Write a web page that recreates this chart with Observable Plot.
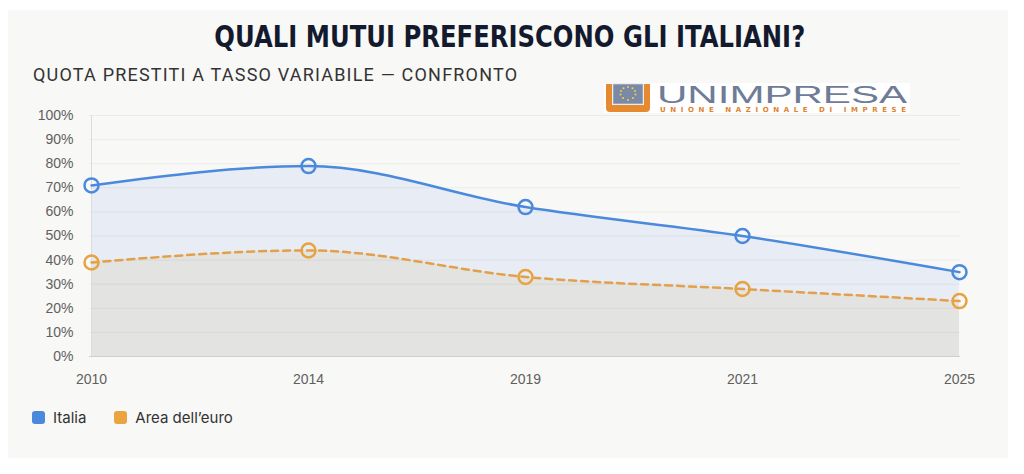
<!DOCTYPE html>
<html>
<head>
<meta charset="utf-8">
<script src="https://cdn.jsdelivr.net/npm/d3@7"></script>
<script src="https://cdn.jsdelivr.net/npm/@observablehq/plot@0.6"></script>
<style>
  html, body { margin:0; padding:0; background:#fff; }
  body { width:1024px; height:474px; position:relative; overflow:hidden; font-family:"Liberation Sans", Arial, sans-serif; }
  #panel { position:absolute; left:8px; top:10px; width:1000px; height:448px; background:#f8f8f6; }
  #title { position:absolute; left:0; width:1020px; top:19px; text-align:center; }
  #title span { display:inline-block; transform:scaleX(0.81); transform-origin:center; font-family:"DejaVu Sans","Liberation Sans",sans-serif; font-weight:700; font-size:30px; color:#141a2e; letter-spacing:0px; white-space:nowrap; }
  #subtitle { position:absolute; left:33px; top:64px; font-family:"Roboto","Liberation Sans",sans-serif; font-size:18px; color:#333; letter-spacing:1.2px; white-space:nowrap; }
  #logo { position:absolute; left:604px; top:80px; }
  #chart { position:absolute; left:0; top:100px; }
  #legend { position:absolute; left:32px; top:408px; font-family:"Inter","Liberation Sans",sans-serif; font-size:15px; color:#333; display:flex; align-items:center; }
  .sw { display:inline-block; width:13px; height:13px; border-radius:3px; margin-right:8px; }
  .item { display:flex; align-items:center; margin-right:28px; }
</style>
</head>
<body>
<div id="panel"></div>
<div id="title"><span>QUALI MUTUI PREFERISCONO GLI ITALIANI?</span></div>
<div id="subtitle">QUOTA PRESTITI A TASSO VARIABILE — CONFRONTO</div>
<div id="logo">
  <svg width="306" height="36" viewBox="0 0 306 36">
    <rect x="0" y="3" width="306" height="30" fill="#ffffff"/>
    <path d="M2 4 H8 V25 H40 V4 H46 V28 Q46 32 42 32 H6 Q2 32 2 28 Z" fill="#e58a2f"/>
    <rect x="9" y="4" width="30" height="20" fill="#7a8aa6" stroke="#c9ced8" stroke-width="0.8"/>
    <g fill="#f4d03f">
      <circle cx="24" cy="7" r="1"/><circle cx="28.5" cy="8.2" r="1"/><circle cx="31" cy="11" r="1"/>
      <circle cx="31.5" cy="14.5" r="1"/><circle cx="29" cy="18" r="1"/><circle cx="24" cy="20" r="1"/>
      <circle cx="19" cy="18" r="1"/><circle cx="16.5" cy="14.5" r="1"/><circle cx="17" cy="11" r="1"/>
      <circle cx="19.5" cy="8.2" r="1"/>
    </g>
    <text x="53" y="22.5" font-family="Liberation Sans, Arial, sans-serif" font-size="24" fill="#6e7c97" textLength="250" lengthAdjust="spacingAndGlyphs">UNIMPRESA</text>
    <text x="56" y="31.5" font-family="DejaVu Sans, sans-serif" font-weight="700" font-size="7" fill="#e0822e" textLength="246" lengthAdjust="spacing">UNIONE NAZIONALE DI IMPRESE</text>
  </svg>
</div>
<div id="chart"></div>
<div id="legend">
  <div class="item"><span class="sw" style="background:#4a89dc"></span>Italia</div>
  <div class="item"><span class="sw" style="background:#eaa440"></span>Area dell’euro</div>
</div>
<script>
const years = ["2010", "2014", "2019", "2021", "2025"];
const italia = [71, 79, 62, 50, 35];
const euro = [39, 44, 33, 28, 23];
const yTicks = [0, 10, 20, 30, 40, 50, 60, 70, 80, 90, 100];

const data = years.map((year, i) => ({year, italia: italia[i], euro: euro[i]}));

const chart = Plot.plot({
  width: 1024,
  height: 300,
  marginLeft: 89,
  marginRight: 64,
  marginTop: 15,
  marginBottom: 44,
  style: {background: "transparent", fontSize: "14px", color: "#5f5f5f", fontFamily: "Liberation Sans, Arial, sans-serif"},
  x: {type: "point", domain: years, padding: 0, label: null, tickSize: 0, tickPadding: 18},
  y: {domain: [0, 100], ticks: yTicks, tickFormat: d => d + "%", label: null, tickSize: 0, tickPadding: 16},
  marks: [
    Plot.areaY(data, {x: "year", y: "italia", fill: "#e7ecf5", curve: "monotone-x"}),
    Plot.areaY(data, {x: "year", y: "euro", fill: "#e3e3e1", curve: "monotone-x"}),
    Plot.gridY(yTicks, {stroke: "#000", strokeOpacity: 0.05, strokeWidth: 1}),
    Plot.ruleX([years[0]], {stroke: "#dcdcdc"}),
    Plot.ruleY([0], {stroke: "#cfcfcf"}),
    Plot.lineY(data, {x: "year", y: "italia", stroke: "#4a89dc", strokeWidth: 2.5, curve: "monotone-x"}),
    Plot.lineY(data, {x: "year", y: "euro", stroke: "#e3a04a", strokeWidth: 2.5, strokeDasharray: "7,5", curve: "monotone-x"}),
    Plot.dot(data, {x: "year", y: "italia", r: 7, stroke: "#4a89dc", strokeWidth: 2.5, fill: "none"}),
    Plot.dot(data, {x: "year", y: "euro", r: 7, stroke: "#e8a340", strokeWidth: 2.5, fill: "none"})
  ]
});
document.getElementById("chart").appendChild(chart);
</script>
</body>
</html>
